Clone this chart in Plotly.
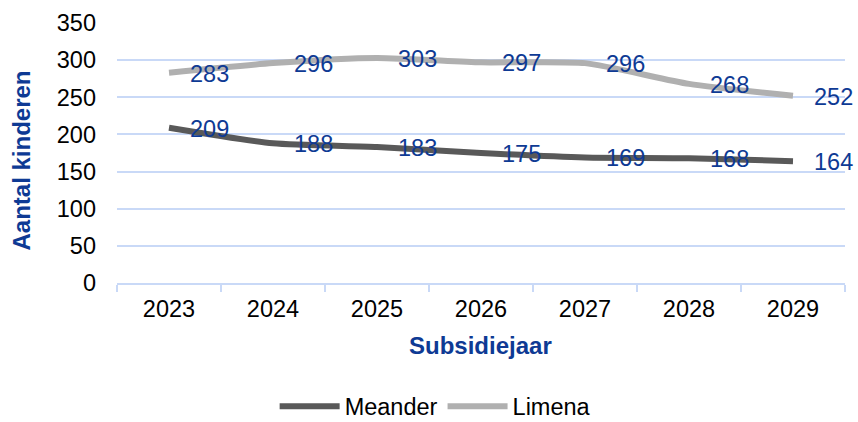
import plotly.graph_objects as go

years = ["2023", "2024", "2025", "2026", "2027", "2028", "2029"]
meander = [209, 188, 183, 175, 169, 168, 164]
limena = [283, 296, 303, 297, 296, 268, 252]
y_ticks = [0, 50, 100, 150, 200, 250, 300, 350]

FONT = "Liberation Sans, Arial, sans-serif"
LABEL_COLOR = "#0e3a94"
GRID = "#c9d9f7"

fig = go.Figure()
fig.add_trace(go.Scatter(x=years, y=meander, name="Meander", mode="lines",
                         line=dict(color="#595959", width=6, shape="spline", smoothing=0.6)))
fig.add_trace(go.Scatter(x=years, y=limena, name="Limena", mode="lines",
                         line=dict(color="#b0b0b0", width=6, shape="spline", smoothing=0.6)))

anns = []
for series in (meander, limena):
    for i, v in enumerate(series):
        anns.append(dict(x=i, y=v, xref="x", yref="y", text=str(v), showarrow=False,
                         xanchor="left", yanchor="middle", xshift=19, yshift=-1,
                         font=dict(family=FONT, size=23.5, color=LABEL_COLOR)))
anns.append(dict(x=0, y=0.471, xref="paper", yref="paper", text="<b>Aantal kinderen</b>",
                 showarrow=False, textangle=-90, xanchor="center", yanchor="middle",
                 xshift=-95, font=dict(family=FONT, size=24, color=LABEL_COLOR)))
anns.append(dict(x=(480 - 117) / 727, y=0, xref="paper", yref="paper", text="<b>Subsidiejaar</b>",
                 showarrow=False, xanchor="center", yanchor="middle",
                 yshift=-62, font=dict(family=FONT, size=24, color=LABEL_COLOR)))

fig.update_layout(
    width=858, height=422,
    margin=dict(l=117, r=13, t=23, b=139, autoexpand=False),
    plot_bgcolor="white", paper_bgcolor="white",
    font=dict(family=FONT, size=23.5, color="black"),
    annotations=anns,
    showlegend=True,
    legend=dict(orientation="h", x=0.437, y=-0.475, xanchor="center", yanchor="middle",
                font=dict(family=FONT, size=23.5, color="black"), itemwidth=60,
                traceorder="normal", bgcolor="rgba(0,0,0,0)"),
    xaxis=dict(type="category", showgrid=False, showline=True, linecolor=GRID, linewidth=2,
               ticks="outside", tickson="boundaries", ticklen=7, tickcolor=GRID, tickwidth=2,
               tickfont=dict(family=FONT, size=23.5, color="black"), ticklabelstandoff=4,
               range=[-0.5, 6.5]),
    yaxis=dict(range=[0, 350], tickvals=y_ticks, showgrid=True, gridcolor=GRID, gridwidth=2,
               zeroline=False, showline=False, ticks="",
               tickfont=dict(family=FONT, size=23.5, color="black"), ticklabelstandoff=20),
)

fig.write_html("out.html", config={"displayModeBar": False},
               post_script="document.body.style.margin='0';document.body.style.padding='0';")
